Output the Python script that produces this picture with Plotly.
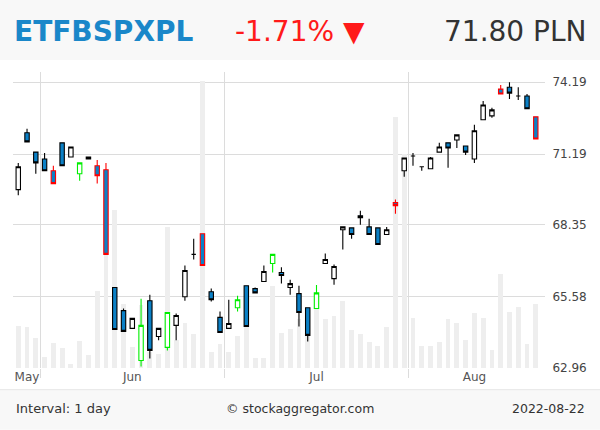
import plotly.graph_objects as go
import math

# ---------------- data ----------------
day_index = list(range(60))
opens = [69.75, 72.07, 71.27, 70.99, 70.51, 71.65, 71.07, 70.39, 70.99, 70.71,
         70.55, 65.93, 65.06, 64.40, 63.22, 65.43, 64.10, 63.70, 64.51, 65.58,
         67.20, 68.00, 65.77, 64.81, 64.40, 65.17, 66.00, 65.89, 66.16, 66.85,
         66.50, 65.93, 65.70, 65.17, 65.14, 66.85, 66.27, 68.16, 68.23, 68.71,
         68.27, 68.23, 67.97, 69.23, 70.51, 71.11, 70.67, 70.59, 71.27, 71.65,
         71.77, 71.52, 70.99, 72.61, 72.77, 73.90, 73.98, 73.61, 73.61, 72.73]
highs = [70.83, 72.23, 71.27, 71.23, 70.71, 71.65, 71.48, 70.83, 71.07, 70.95,
         70.83, 65.93, 65.14, 64.77, 65.51, 65.66, 64.40, 64.99, 64.95, 66.77,
         67.81, 68.00, 65.89, 65.03, 65.47, 65.62, 66.00, 65.93, 66.77, 67.20,
         66.70, 66.23, 66.00, 65.17, 66.03, 67.23, 66.81, 68.27, 68.23, 68.91,
         68.59, 68.23, 68.27, 69.35, 71.03, 71.23, 70.67, 71.07, 71.65, 71.65,
         71.98, 71.52, 72.40, 73.40, 73.11, 74.07, 74.19, 73.98, 73.69, 72.73]
lows = [69.52, 71.69, 70.39, 70.51, 69.99, 70.71, 71.07, 70.11, 70.99, 69.99,
        67.20, 64.36, 64.29, 64.40, 63.00, 63.29, 63.96, 63.59, 63.96, 65.43,
        67.00, 66.77, 65.40, 64.25, 64.40, 65.03, 64.47, 65.73, 66.16, 66.50,
        66.08, 65.66, 64.47, 63.92, 65.14, 66.85, 66.04, 67.39, 67.81, 68.35,
        67.97, 67.58, 67.97, 68.79, 70.27, 70.71, 70.51, 70.59, 71.27, 70.63,
        71.44, 71.15, 70.83, 72.61, 72.69, 73.69, 73.48, 73.44, 73.07, 71.81]
closes = [70.67, 71.69, 70.83, 70.51, 69.99, 70.71, 71.48, 70.83, 71.07, 70.31,
          67.20, 64.36, 64.29, 64.77, 64.51, 63.59, 64.40, 64.99, 64.88, 66.58,
          67.20, 66.77, 65.47, 64.25, 64.58, 65.47, 64.47, 65.73, 66.54, 67.20,
          66.39, 66.08, 64.99, 64.14, 65.73, 67.00, 66.73, 68.27, 67.97, 68.63,
          67.97, 67.58, 68.16, 69.11, 71.03, 71.11, 70.67, 71.03, 71.48, 71.44,
          71.98, 71.27, 72.15, 73.23, 73.02, 73.69, 73.73, 73.61, 73.07, 71.81]
# candle style: W hollow/black, B filled/black, R filled/red, G hollow/green
candle_style = ['W', 'B', 'B', 'B', 'R', 'B', 'W', 'G', 'W', 'R',
                'R', 'B', 'B', 'W', 'G', 'B', 'W', 'G', 'W', 'W',
                'W', 'R', 'B', 'B', 'W', 'G', 'B', 'B', 'W', 'G',
                'B', 'W', 'B', 'B', 'G', 'W', 'W', 'W', 'B', 'B',
                'B', 'B', 'W', 'R', 'W', 'W', 'W', 'W', 'W', 'B',
                'W', 'B', 'W', 'W', 'W', 'R', 'B', 'W', 'B', 'R']
volume = [42300, 41300, 30300, 11300, 25300, 20300, 4300, 27300, 13300, 77300,
          138000, 158000, 64000, 21300, 63000, 16300, 14000, 141000, 28000, 45000,
          34000, 287300, 16000, 24000, 16000, 32000, 43000, 10000, 10000, 82000,
          35000, 39000, 49000, 38000, 60000, 49000, 52000, 67000, 38000, 34000,
          26000, 22000, 41000, 251000, 214000, 50000, 22000, 22000, 26000, 49000,
          45000, 28000, 55000, 50000, 18000, 94000, 56000, 61000, 24000, 64000]
month_labels = ['May', 'Jun', 'Jul', 'Aug']
month_pos = [1, 13, 34, 52]
grid_pos = [2.5, 23.5, 44.5]
price_ticks = [62.96, 65.58, 68.35, 71.19, 74.19]

ticker = 'ETFBSPXPL'
change_text = '-1.71% ▼'
last_text = '71.80 PLN'
interval_text = 'Interval: 1 day'
source_text = '© stockaggregator.com'
date_text = '2022-08-22'

BLUE = '#0b80c6'
styles = {
    'W': ('#ffffff', '#000000'),
    'B': (BLUE, '#000000'),
    'R': (BLUE, '#ff0000'),
    'G': ('#ffffff', '#00ee00'),
}

FONT = 'DejaVu Sans'
fig = go.Figure()

fig.add_trace(go.Bar(x=day_index, y=volume, width=0.55, marker_color='#eeeeee',
                     marker_line_width=0, yaxis='y', hoverinfo='skip', showlegend=False))

for key, (fill, line) in styles.items():
    sel = [i for i, s in enumerate(candle_style) if s == key]
    st = dict(fillcolor=fill, line=dict(color=line, width=1.1))
    fig.add_trace(go.Candlestick(
        x=[day_index[i] for i in sel],
        open=[opens[i] for i in sel], high=[highs[i] for i in sel],
        low=[lows[i] for i in sel], close=[closes[i] for i in sel],
        increasing=st, decreasing=st, whiskerwidth=0,
        yaxis='y2', showlegend=False))

top_px, bot_px = 72.0, 368.3
lo = math.log10(price_ticks[0])
per_px = (math.log10(price_ticks[-1]) - lo) / (bot_px - 82.3)
y2_range = [lo - 0.3 * per_px, lo + (bot_px - top_px) * per_px]

def py(p):
    return (bot_px - p) / (bot_px - top_px)

def px(p):
    return (p - 13) / (545 - 13)

fig.update_layout(
    width=600, height=430,
    margin=dict(l=13, r=55, t=top_px, b=430 - bot_px, pad=0),
    paper_bgcolor='#ffffff', plot_bgcolor='#ffffff',
    boxgap=0.5, boxgroupgap=0,
    font=dict(family=FONT, size=12, color='#444444'),
    xaxis=dict(range=[-0.6, 60.05], tickmode='array', tickvals=month_pos, ticktext=month_labels,
               showgrid=False, zeroline=False, ticks='', rangeslider=dict(visible=False),
               tickfont=dict(size=12, color='#555555'),
               minor=dict(tickmode='array', tickvals=grid_pos, showgrid=True, gridcolor='#dcdcdc',
                          gridwidth=1, ticks='outside', ticklen=9, tickcolor='#dcdcdc', tickwidth=1)),
    yaxis=dict(range=[0, 296300], visible=False, fixedrange=True),
    yaxis2=dict(type='log', range=y2_range, overlaying='y', side='right',
                tickmode='array', tickvals=price_ticks, ticktext=[f'{v:.2f}' for v in price_ticks],
                showgrid=True, gridcolor='#dcdcdc', gridwidth=1, zeroline=False, ticks='outside',
                ticklen=4, tickcolor='rgba(0,0,0,0)', tickfont=dict(size=12, color='#444444')),
    bargap=0, showlegend=False,
    shapes=[
        dict(type='rect', xref='paper', yref='paper', x0=px(0), x1=px(600), y0=py(60), y1=py(0),
             fillcolor='#f8f8f8', line_width=0, layer='below'),
        dict(type='rect', xref='paper', yref='paper', x0=px(0), x1=px(600), y0=py(430), y1=py(390),
             fillcolor='#f8f8f8', line_width=0, layer='below'),
        dict(type='line', xref='paper', yref='paper', x0=px(0), x1=px(600), y0=py(390), y1=py(390),
             line=dict(color='#e6e6e6', width=1)),
    ],
    annotations=[
        dict(text=f'<b>{ticker}</b>', x=px(12), y=py(31), xref='paper', yref='paper', xanchor='left',
             yanchor='middle', showarrow=False, font=dict(size=28, color='#1a87c9', family=FONT)),
        dict(text=change_text, x=px(233), y=py(31), xref='paper', yref='paper', xanchor='left',
             yanchor='middle', showarrow=False, font=dict(size=28, color='#ff1a1a', family=FONT)),
        dict(text=last_text, x=px(589), y=py(31), xref='paper', yref='paper', xanchor='right',
             yanchor='middle', showarrow=False, font=dict(size=28, color='#333333', family=FONT)),
        dict(text=interval_text, x=px(14), y=py(409), xref='paper', yref='paper', xanchor='left',
             yanchor='middle', showarrow=False, font=dict(size=13, color='#333333', family=FONT)),
        dict(text=source_text, x=px(300), y=py(409), xref='paper', yref='paper', xanchor='center',
             yanchor='middle', showarrow=False, font=dict(size=12.5, color='#333333', family=FONT)),
        dict(text=date_text, x=px(587), y=py(409), xref='paper', yref='paper', xanchor='right',
             yanchor='middle', showarrow=False, font=dict(size=12.5, color='#333333', family=FONT)),
    ],
)

fig.write_html('out.html', config={'displayModeBar': False})
